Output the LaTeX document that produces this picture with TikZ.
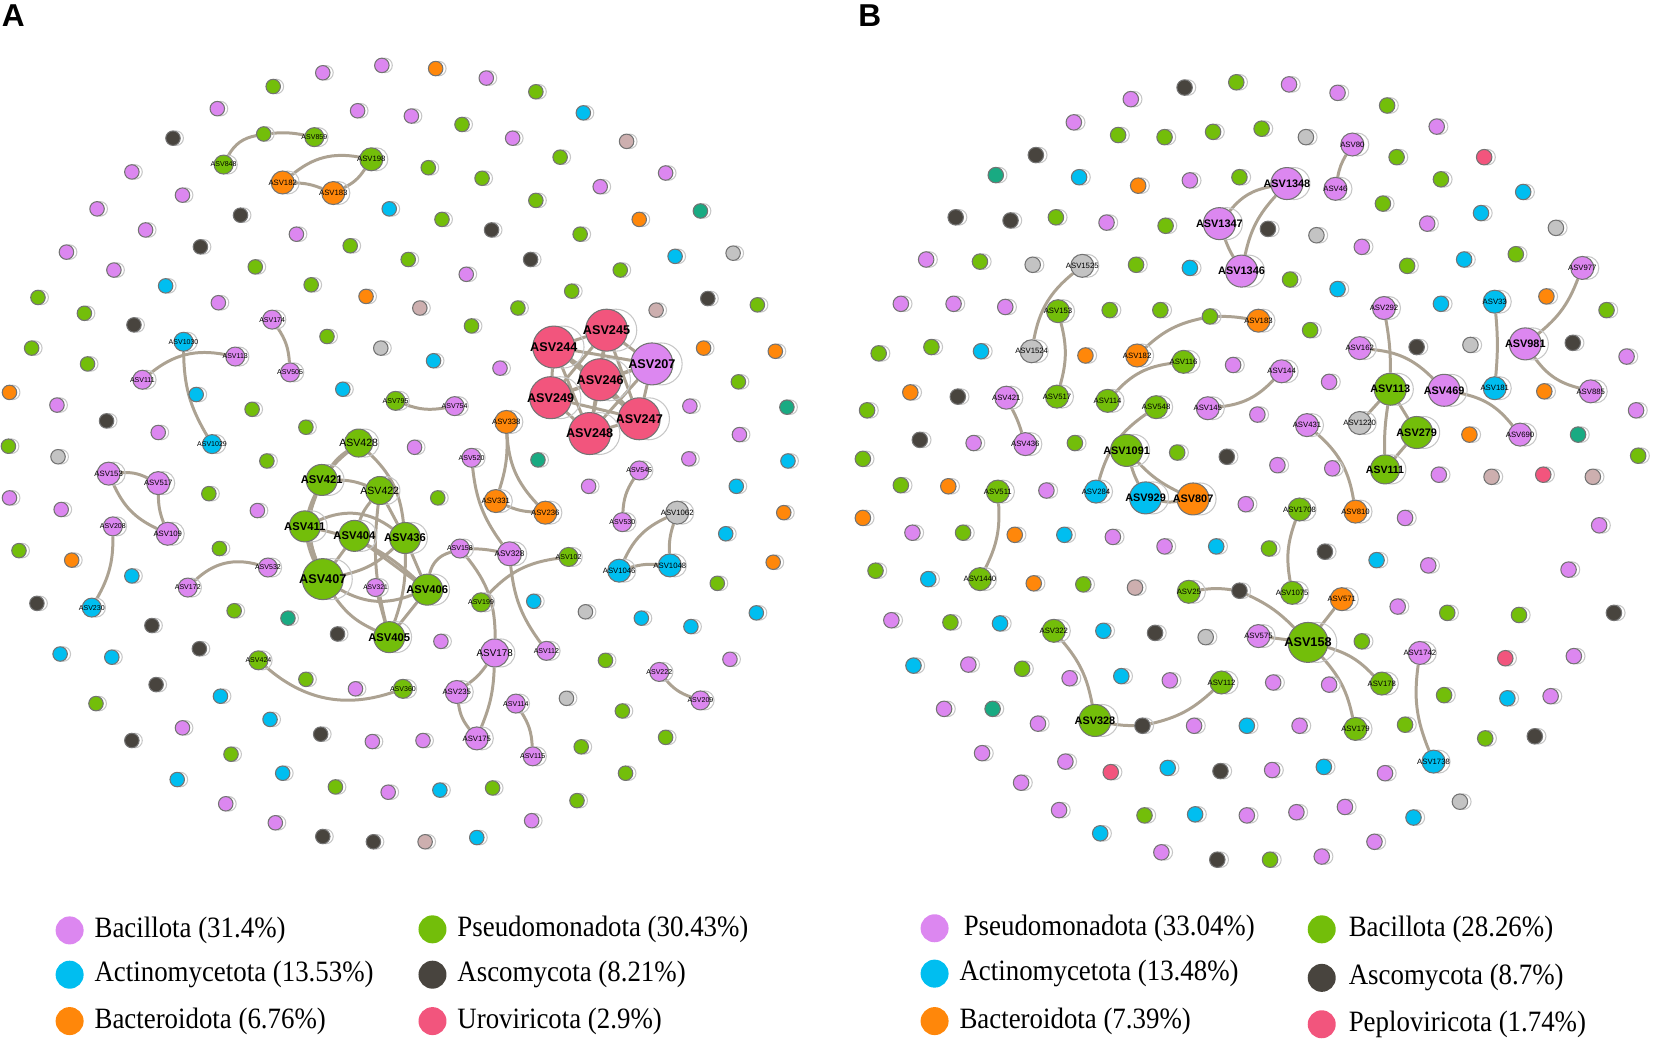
\documentclass[tikz,border=0pt]{standalone}
\usepackage{fontspec}
\setmainfont{Liberation Sans}
\newfontfamily\legfont[FakeStretch=0.91]{Liberation Serif}

\definecolor{pk}{RGB}{220,135,240}
\definecolor{gn}{RGB}{115,190,10}
\definecolor{bl}{RGB}{0,190,240}
\definecolor{og}{RGB}{255,135,10}
\definecolor{dk}{RGB}{72,68,62}
\definecolor{rd}{RGB}{242,85,125}
\definecolor{lg}{RGB}{195,195,195}
\definecolor{tl}{RGB}{25,170,130}
\definecolor{mv}{RGB}{205,175,175}
\definecolor{edgecol}{RGB}{172,162,146}

\pgfdeclarelayer{background}
\pgfsetlayers{background,main}

\tikzset{
  asv/.style={circle, draw=black!55, line width=0.3pt, inner sep=0pt},
  ghost/.style={circle, draw=black!22, line width=0.3pt, inner sep=0pt},
  edge/.style={draw=edgecol, line width=0.85pt},
  legdot/.style={circle, inner sep=0pt, minimum size=2.8mm},
  legtext/.style={anchor=west, inner sep=0pt, font=\legfont\fontsize{8.4}{10}\selectfont},
  panel/.style={anchor=north west, inner sep=0pt, font=\bfseries\fontsize{9}{9}\selectfont}
}

% name, x, y, colour, size (mm), font (pt), label
\newcommand{\otu}[7]{%
  \node[ghost, minimum size=#5mm] (g#1) at ([xshift=#5*0.22mm]#2,#3) {};
  \node[asv, fill=#4, minimum size=#5mm] (#1) at (#2,#3) {};
  \node[inner sep=0pt, font=\fontsize{#6}{#6}\selectfont] (t#1) at (#1) {#7};
}

\begin{document}
\begin{tikzpicture}[x=0.10548mm, y=-0.10548mm]
\useasboundingbox (0,0) rectangle (1568,986);

\node[panel] (lblA) at (1,4) {A};
\node[panel] (lblB) at (813,4) {B};

% panel A: unconnected ASVs
\foreach \x/\y/\c [count=\i] in {362/62/pk, 413/65/og, 306/69/pk, 461/74/pk, 259/82/gn, 508/87/gn,
  206/103/pk, 339/105/pk, 390/110/pk, 553/107/bl, 438/118/gn, 486/131/pk, 594/134/mv, 164/131/dk,
  531/149/gn, 406/159/gn, 457/169/gn, 631/164/pk, 569/177/pk, 125/163/pk, 173/185/pk, 369/198/bl,
  92/198/pk, 228/204/dk, 508/190/gn, 664/200/tl, 606/208/og, 419/208/gn, 466/218/dk, 550/222/gn,
  138/218/pk, 281/222/pk, 332/233/gn, 190/234/dk, 63/239/pk, 387/246/gn, 503/246/dk, 640/243/bl,
  695/240/lg, 108/256/pk, 242/253/gn, 442/260/pk, 588/256/gn, 157/271/bl, 295/270/gn, 542/276/gn,
  347/281/og, 36/282/gn, 671/283/dk, 718/289/gn, 207/287/pk, 398/292/mv, 491/292/gn, 622/294/mv,
  80/297/gn, 127/308/dk, 447/309/gn, 30/330/gn, 83/345/gn, 310/319/gn, 361/330/lg, 325/369/bl,
  9/372/og, 54/384/pk, 186/374/bl, 239/388/gn, 101/399/dk, 150/410/pk, 290/405/gn, 8/423/gn,
  55/433/lg, 253/437/gn, 393/424/pk, 9/472/pk, 58/483/pk, 198/468/gn, 244/484/pk, 18/522/gn,
  68/531/og, 208/520/gn, 125/546/bl, 411/342/bl, 474/349/pk, 667/330/og, 735/333/og, 700/362/gn,
  654/385/pk, 746/386/tl, 701/412/pk, 510/436/tl, 653/435/pk, 747/437/bl, 558/461/pk, 698/461/bl,
  415/472/gn, 743/486/og, 688/506/bl, 733/533/og, 680/553/gn, 35/572/dk, 222/579/gn, 273/586/tl,
  144/593/dk, 320/601/dk, 57/620/bl, 106/623/bl, 189/615/dk, 290/644/gn, 337/653/pk, 148/649/dk,
  209/660/bl, 91/667/gn, 173/690/pk, 256/682/bl, 125/702/dk, 304/696/dk, 353/703/pk, 401/702/pk,
  219/715/gn, 168/739/bl, 268/733/bl, 318/746/gn, 368/751/pk, 214/762/pk, 261/780/pk, 306/793/dk,
  354/798/dk, 506/570/bl, 555/580/lg, 608/586/bl, 655/594/bl, 717/581/bl, 418/608/pk, 574/626/gn,
  692/625/pk, 537/662/lg, 590/674/gn, 631/699/gn, 551/708/gn, 593/733/gn, 417/749/bl, 467/747/gn,
  547/759/gn, 504/778/pk, 403/798/mv, 452/794/bl}
  {\otu{a\i}{\x}{\y}{\c}{1.45}{2}{}}

% panel A: connected ASVs
\otu{A848}{212}{156}{gn}{1.9}{2}{ASV848}
\otu{A16}{250}{127}{gn}{1.45}{2}{}
\otu{A859}{298}{130}{gn}{1.9}{2}{ASV859}
\otu{A198}{352}{151}{gn}{2.3}{2.2}{ASV198}
\otu{A182}{268}{173}{og}{2.3}{2.2}{ASV182}
\otu{A183}{316}{183}{og}{2.3}{2.2}{ASV183}
\otu{A174}{258}{303}{pk}{1.9}{2}{ASV174}
\otu{A1030}{174}{324}{bl}{1.9}{2}{ASV1030}
\otu{A113}{223}{338}{pk}{1.9}{2}{ASV113}
\otu{A111}{135}{360}{pk}{1.9}{2}{ASV111}
\otu{A505}{275}{353}{pk}{1.9}{2}{ASV505}
\otu{A1029}{201}{421}{bl}{1.9}{2}{ASV1029}
\otu{A795}{375}{380}{gn}{1.9}{2}{ASV795}
\otu{A754}{431}{385}{pk}{1.9}{2}{ASV754}
\otu{A153}{103}{449}{pk}{2.3}{2.2}{ASV153}
\otu{A517}{150}{458}{pk}{2.3}{2.2}{ASV517}
\otu{A109}{159}{506}{pk}{2.3}{2.2}{ASV109}
\otu{A208}{107}{499}{pk}{1.9}{2}{ASV208}
\otu{A230}{87}{576}{bl}{1.9}{2}{ASV230}
\otu{A172}{178}{557}{pk}{1.9}{2}{ASV172}
\otu{A532}{254}{538}{pk}{1.9}{2}{ASV532}
\otu{A428}{340}{420}{gn}{2.8}{3}{ASV428}
\otu{A421}{305}{455}{gn}{3.1}{3.2}{\textbf{ASV421}}
\otu{A422}{360}{465}{gn}{2.8}{3}{ASV422}
\otu{A411}{289}{499}{gn}{3.1}{3.2}{\textbf{ASV411}}
\otu{A404}{336}{508}{gn}{3.1}{3.2}{\textbf{ASV404}}
\otu{A436}{384}{510}{gn}{3.1}{3.2}{\textbf{ASV436}}
\otu{A407}{306}{549}{gn}{4.1}{3.6}{\textbf{ASV407}}
\otu{A321}{356}{557}{pk}{1.8}{1.9}{ASV321}
\otu{A406}{405}{559}{gn}{3.1}{3.2}{\textbf{ASV406}}
\otu{A405}{369}{604}{gn}{3.1}{3.2}{\textbf{ASV405}}
\otu{A424}{245}{626}{gn}{1.9}{2}{ASV424}
\otu{A360}{382}{653}{gn}{1.9}{2}{ASV360}
\otu{A244}{525}{329}{rd}{4.2}{3.6}{\textbf{ASV244}}
\otu{A245}{575}{313}{rd}{4.2}{3.6}{\textbf{ASV245}}
\otu{A207}{618}{345}{pk}{4.2}{3.6}{\textbf{ASV207}}
\otu{A246}{569}{360}{rd}{4.2}{3.6}{\textbf{ASV246}}
\otu{A249}{522}{377}{rd}{4.2}{3.6}{\textbf{ASV249}}
\otu{A247}{606}{397}{rd}{4.2}{3.6}{\textbf{ASV247}}
\otu{A248}{559}{411}{rd}{4.2}{3.6}{\textbf{ASV248}}
\otu{A338}{480}{400}{og}{2.3}{2.2}{ASV338}
\otu{A520}{447}{434}{pk}{1.9}{2}{ASV520}
\otu{A545}{606}{446}{pk}{1.9}{2}{ASV545}
\otu{A331}{470}{475}{og}{2.3}{2.2}{ASV331}
\otu{A236}{517}{486}{og}{2.3}{2.2}{ASV236}
\otu{A1062}{642}{486}{lg}{2.3}{2.2}{ASV1062}
\otu{A530}{590}{495}{pk}{1.9}{2}{ASV530}
\otu{A158}{436}{520}{pk}{1.9}{2}{ASV158}
\otu{A328}{483}{525}{pk}{2.4}{2.3}{ASV328}
\otu{A102}{539}{528}{gn}{1.9}{2}{ASV102}
\otu{A1046}{587}{541}{bl}{2.3}{2.2}{ASV1046}
\otu{A1048}{635}{536}{bl}{2.3}{2.2}{ASV1048}
\otu{A199}{456}{571}{gn}{1.9}{2}{ASV199}
\otu{A178}{469}{619}{pk}{2.8}{2.8}{ASV178}
\otu{A112}{518}{617}{pk}{1.9}{2}{ASV112}
\otu{A222}{625}{637}{pk}{1.9}{2}{ASV222}
\otu{A235}{433}{656}{pk}{2.3}{2.2}{ASV235}
\otu{A114}{489}{667}{pk}{1.9}{2}{ASV114}
\otu{A209}{664}{664}{pk}{1.9}{2}{ASV209}
\otu{A175}{452}{700}{pk}{2.3}{2.2}{ASV175}
\otu{A115}{505}{717}{pk}{1.9}{2}{ASV115}

% panel B: unconnected ASVs
\foreach \x/\y/\c [count=\i] in {878/246/pk, 929/248/gn, 979/251/lg, 1077/251/gn, 1128/254/bl,
  1223/265/gn, 854/288/pk, 904/288/pk, 953/291/pk, 1052/294/gn, 1100/294/gn, 833/335/gn, 883/329/gn,
  930/333/bl, 1029/337/og, 1169/346/pk, 863/372/og, 908/376/dk, 1192/393/pk, 822/389/gn, 872/417/dk,
  923/420/pk, 1019/420/gn, 1116/429/gn, 1163/433/dk, 1211/441/pk, 818/435/gn, 854/460/gn, 899/461/og,
  992/465/pk, 1181/478/pk, 818/491/og, 865/505/pk, 913/505/gn, 962/507/og, 1009/507/bl, 1055/509/pk,
  1332/491/pk, 1104/518/pk, 1153/518/bl, 1203/520/gn, 1256/523/dk, 1305/531/bl, 1354/536/pk,
  980/553/og, 1027/554/gn, 1076/557/mv, 1325/575/pk, 1372/581/gn, 901/590/gn, 948/591/bl, 1046/598/bl,
  1095/600/dk, 1143/604/lg, 1291/608/gn, 918/630/pk, 969/634/gn, 1014/643/pk, 1063/641/bl, 1109/645/pk,
  1207/647/pk, 1260/649/pk, 1369/659/gn, 941/672/tl, 984/686/pk, 1132/688/pk, 1182/688/bl, 1232/688/pk,
  1332/687/gn, 931/714/pk, 1010/722/pk, 1053/732/rd, 1107/728/bl, 1157/731/dk, 1206/730/pk,
  1255/727/bl, 1313/733/pk, 982/147/dk, 1023/168/bl, 1079/176/og, 1128/171/pk, 1175/168/gn,
  1324/149/gn, 1407/149/rd, 1366/170/gn, 1444/182/bl, 958/209/dk, 1001/206/gn, 1049/211/pk,
  1105/214/gn, 1202/217/dk, 1248/223/lg, 1311/193/gn, 1404/202/bl, 1353/212/pk, 1475/216/lg,
  1291/234/pk, 1334/252/gn, 1437/241/gn, 1388/246/bl, 1268/274/bl, 1242/313/gn, 1366/288/bl,
  1466/281/og, 1523/294/gn, 1343/329/dk, 1394/327/lg, 1491/325/dk, 1542/338/pk, 1260/362/pk,
  1464/371/og, 1551/389/pk, 1393/412/og, 1496/412/tl, 1553/432/gn, 1263/444/pk, 1364/450/pk,
  1414/452/mv, 1463/450/rd, 1510/452/mv, 1172/78/gn, 1222/80/pk, 1123/83/dk, 1268/88/pk, 1072/94/pk,
  1315/100/gn, 1018/116/pk, 1104/130/gn, 1150/125/gn, 1196/122/gn, 1238/130/lg, 1362/120/pk,
  1060/128/gn, 944/166/tl, 906/206/dk, 830/541/gn, 880/549/bl, 845/588/pk, 866/631/bl, 895/672/pk,
  968/742/pk, 1004/768/pk, 1043/790/bl, 1085/773/gn, 1133/772/bl, 1182/773/pk, 1229/770/pk,
  1275/765/pk, 1340/775/bl, 1384/760/lg, 1101/808/pk, 1154/815/dk, 1204/815/gn, 1253/812/pk,
  1303/798/pk, 1516/498/pk, 1487/540/pk, 1530/581/dk, 1440/583/gn, 1427/624/rd, 1492/622/pk,
  1429/662/bl, 1470/660/pk, 1455/698/dk, 1408/700/gn}
  {\otu{b\i}{\x}{\y}{\c}{1.55}{2}{}}

% panel B: connected ASVs
\otu{B1348}{1220}{174}{pk}{3.2}{3.1}{\textbf{ASV1348}}
\otu{B1347}{1156}{212}{pk}{3.2}{3.1}{\textbf{ASV1347}}
\otu{B1346}{1177}{257}{pk}{3.2}{3.1}{\textbf{ASV1346}}
\otu{B80}{1282}{137}{pk}{2.3}{2.2}{ASV80}
\otu{B46}{1266}{179}{pk}{2.3}{2.2}{ASV46}
\otu{B1525}{1026}{252}{lg}{2.3}{2.2}{ASV1525}
\otu{B1524}{978}{333}{lg}{2.3}{2.2}{ASV1524}
\otu{B153}{1003}{295}{gn}{2.3}{2.2}{ASV153}
\otu{B517}{1002}{376}{gn}{2.3}{2.2}{ASV517}
\otu{B16}{1147}{300}{gn}{1.55}{2}{}
\otu{B183}{1193}{304}{og}{2.3}{2.2}{ASV183}
\otu{B182}{1078}{337}{og}{2.3}{2.2}{ASV182}
\otu{B116}{1122}{343}{gn}{2.3}{2.2}{ASV116}
\otu{B144}{1215}{352}{pk}{2.3}{2.2}{ASV144}
\otu{B114}{1050}{380}{gn}{2.3}{2.2}{ASV114}
\otu{B421}{954}{377}{pk}{2.3}{2.2}{ASV421}
\otu{B436}{972}{421}{pk}{2.3}{2.2}{ASV436}
\otu{B548}{1096}{386}{gn}{2.3}{2.2}{ASV548}
\otu{B145}{1145}{387}{pk}{2.3}{2.2}{ASV145}
\otu{B1091}{1068}{427}{gn}{3.2}{3.1}{\textbf{ASV1091}}
\otu{B284}{1039}{466}{bl}{2.3}{2.2}{ASV284}
\otu{B929}{1086}{472}{bl}{3.2}{3.1}{\textbf{ASV929}}
\otu{B807}{1131}{473}{og}{3.2}{3.1}{\textbf{ASV807}}
\otu{B511}{946}{466}{gn}{2.3}{2.2}{ASV511}
\otu{B1440}{929}{549}{gn}{2.3}{2.2}{ASV1440}
\otu{B1708}{1232}{483}{gn}{2.3}{2.2}{ASV1708}
\otu{B1075}{1225}{562}{gn}{2.3}{2.2}{ASV1075}
\otu{B810}{1285}{485}{og}{2.3}{2.2}{ASV810}
\otu{B431}{1239}{403}{pk}{2.3}{2.2}{ASV431}
\otu{B292}{1312}{292}{pk}{2.3}{2.2}{ASV292}
\otu{B162}{1289}{330}{pk}{2.3}{2.2}{ASV162}
\otu{B113}{1318}{369}{gn}{3.2}{3.1}{\textbf{ASV113}}
\otu{B469}{1369}{370}{pk}{3.2}{3.1}{\textbf{ASV469}}
\otu{B1220}{1289}{401}{lg}{2.3}{2.2}{ASV1220}
\otu{B279}{1343}{410}{gn}{3.2}{3.1}{\textbf{ASV279}}
\otu{B111}{1313}{445}{gn}{2.9}{3}{\textbf{ASV111}}
\otu{B690}{1441}{412}{pk}{2.3}{2.2}{ASV690}
\otu{B33}{1417}{286}{bl}{2.3}{2.2}{ASV33}
\otu{B181}{1417}{368}{bl}{2.3}{2.2}{ASV181}
\otu{B981}{1446}{326}{pk}{3.2}{3.1}{\textbf{ASV981}}
\otu{B977}{1500}{254}{pk}{2.3}{2.2}{ASV977}
\otu{B885}{1508}{371}{pk}{2.3}{2.2}{ASV885}
\otu{B25}{1127}{561}{gn}{2.3}{2.2}{ASV25}
\otu{B25d}{1175}{560}{dk}{1.55}{2}{}
\otu{B158}{1240}{609}{gn}{4.0}{3.6}{\textbf{ASV158}}
\otu{B571}{1272}{568}{og}{2.3}{2.2}{ASV571}
\otu{B575}{1193}{603}{pk}{2.3}{2.2}{ASV575}
\otu{B178}{1310}{648}{gn}{2.3}{2.2}{ASV178}
\otu{B179}{1285}{691}{gn}{2.3}{2.2}{ASV179}
\otu{B322}{999}{598}{gn}{2.3}{2.2}{ASV322}
\otu{B328}{1038}{683}{gn}{3.2}{3.1}{\textbf{ASV328}}
\otu{B328d}{1083}{688}{dk}{1.55}{2}{}
\otu{B112}{1158}{647}{gn}{2.3}{2.2}{ASV112}
\otu{B1742}{1346}{619}{pk}{2.3}{2.2}{ASV1742}
\otu{B1738}{1359}{722}{bl}{2.3}{2.2}{ASV1738}

\begin{pgfonlayer}{background}
% panel A links
\draw[edge] (A848) to[bend left=25] (A16);
\draw[edge] (A16) to[bend left=8] (A859);
\draw[edge] (A182) to[bend left=25] (A198);
\draw[edge] (A182) to[bend left=10] (A183);
\draw[edge] (A183) to[bend right=15] (A198);
\draw[edge] (A1030) to[bend right=15] (A1029);
\draw[edge] (A111) to[bend left=25] (A113);
\draw[edge] (A174) to[bend left=15] (A505);
\draw[edge] (A795) to[bend right=15] (A754);
\draw[edge] (A153) to[bend left=15] (A517);
\draw[edge] (A153) to[bend right=20] (A109);
\draw[edge] (A517) to[bend right=10] (A109);
\draw[edge] (A208) to[bend left=15] (A230);
\draw[edge] (A172) to[bend left=30] (A532);
\draw[edge] (A424) to[bend right=30] (A360);
\draw[edge] (A338) to[bend left=10] (A331);
\draw[edge] (A338) to[bend right=20] (A236);
\draw[edge] (A331) to[bend right=10] (A236);
\draw[edge] (A545) to[bend right=15] (A530);
\draw[edge] (A1062) to[bend right=20] (A1046);
\draw[edge] (A1062) to[bend right=10] (A1048);
\draw[edge] (A1046) to[bend left=10] (A1048);
\draw[edge] (A406) to[bend left=30] (A158);
\draw[edge] (A158) to[bend left=5] (A328);
\draw[edge] (A158) to[bend left=20] (A178);
\draw[edge] (A328) to[bend left=15] (A520);
\draw[edge] (A328) to[bend right=15] (A112);
\draw[edge] (A102) to[bend right=20] (A199);
\draw[edge] (A178) to[bend left=10] (A235);
\draw[edge] (A178) to[bend left=10] (A175);
\draw[edge] (A235) to[bend right=15] (A175);
\draw[edge] (A114) to[bend left=15] (A115);
\draw[edge] (A222) to[bend right=15] (A209);
\draw[edge] (A428) to[bend right=10] (A421);
\draw[edge] (A428) to[bend left=20] (A436);
\draw[edge] (A428) to[bend right=35] (A407);
\draw[edge] (A421) to[bend left=10] (A422);
\draw[edge] (A421) to (A411);
\draw[edge] (A421) to[bend right=25] (A407);
\draw[edge] (A411) to[bend left=30] (A436);
\draw[edge] (A411) to (A407);
\draw[edge] (A411) to[bend left=15] (A406);
\draw[edge] (A422) to[bend right=10] (A404);
\draw[edge] (A422) to (A436);
\draw[edge] (A422) to[bend right=10] (A405);
\draw[edge] (A404) to (A407);
\draw[edge] (A404) to (A406);
\draw[edge] (A436) to (A406);
\draw[edge] (A436) to[bend left=15] (A407);
\draw[edge] (A436) to[bend left=10] (A405);
\draw[edge] (A407) to[bend right=25] (A406);
\draw[edge] (A407) to[bend right=15] (A405);
\draw[edge] (A406) to (A405);
\draw[edge] (A321) to (A405);
\foreach \a/\b in {244/245, 244/246, 244/249, 244/248, 244/247, 244/207, 245/246, 245/207,
  245/249, 245/247, 245/248, 246/207, 246/249, 246/247, 246/248, 249/248, 249/247, 248/247,
  207/247, 207/248, 207/249}
  \draw[edge] (A\a) -- (A\b);
% panel B links
\draw[edge] (B1348) to[bend right=20] (B1347);
\draw[edge] (B1348) to[bend right=15] (B1346);
\draw[edge] (B1347) to[bend right=5] (B1346);
\draw[edge] (B80) to[bend right=10] (B46);
\draw[edge] (B1525) to[bend right=20] (B1524);
\draw[edge] (B153) to[bend left=15] (B517);
\draw[edge] (B182) to[bend left=15] (B16);
\draw[edge] (B16) to[bend left=5] (B183);
\draw[edge] (B116) to[bend right=20] (B114);
\draw[edge] (B421) to[bend left=5] (B436);
\draw[edge] (B145) to[bend right=20] (B144);
\draw[edge] (B548) to[bend right=20] (B284);
\draw[edge] (B1091) to[bend right=5] (B929);
\draw[edge] (B1091) to[bend right=10] (B807);
\draw[edge] (B929) to[bend right=10] (B807);
\draw[edge] (B511) to[bend left=15] (B1440);
\draw[edge] (B1708) to[bend right=15] (B1075);
\draw[edge] (B431) to[bend left=20] (B810);
\draw[edge] (B292) to[bend left=5] (B113);
\draw[edge] (B162) to[bend left=20] (B469);
\draw[edge] (B113) to (B1220);
\draw[edge] (B113) to (B279);
\draw[edge] (B113) to[bend right=5] (B111);
\draw[edge] (B279) to (B111);
\draw[edge] (B469) to[bend left=20] (B690);
\draw[edge] (B33) to[bend left=5] (B181);
\draw[edge] (B981) to[bend right=15] (B977);
\draw[edge] (B981) to[bend right=20] (B885);
\draw[edge] (B25) to[bend left=8] (B25d);
\draw[edge] (B25d) to[bend left=10] (B158);
\draw[edge] (B571) to (B158);
\draw[edge] (B575) to (B158);
\draw[edge] (B158) to[bend left=15] (B178);
\draw[edge] (B158) to[bend left=15] (B179);
\draw[edge] (B322) to[bend left=15] (B328);
\draw[edge] (B328) to[bend right=5] (B328d);
\draw[edge] (B328d) to[bend right=15] (B112);
\draw[edge] (B1742) to[bend right=15] (B1738);
\end{pgfonlayer}

% legend A
\node[legdot, fill=pk] (kA1) at (66,882) {};
\node[legtext] (lA1) at (89,882) {Bacillota (31.4\%)};
\node[legdot, fill=bl] (kA2) at (66,924) {};
\node[legtext] (lA2) at (89,924) {Actinomycetota (13.53\%)};
\node[legdot, fill=og] (kA3) at (66,968) {};
\node[legtext] (lA3) at (89,968) {Bacteroidota (6.76\%)};
\node[legdot, fill=gn] (kA4) at (410,881) {};
\node[legtext] (lA4) at (433,881) {Pseudomonadota (30.43\%)};
\node[legdot, fill=dk] (kA5) at (410,924) {};
\node[legtext] (lA5) at (433,924) {Ascomycota (8.21\%)};
\node[legdot, fill=rd] (kA6) at (410,968) {};
\node[legtext] (lA6) at (433,968) {Uroviricota (2.9\%)};

% legend B
\node[legdot, fill=pk] (kB1) at (886,880) {};
\node[legtext] (lB1) at (913,880) {Pseudomonadota (33.04\%)};
\node[legdot, fill=bl] (kB2) at (886,923) {};
\node[legtext] (lB2) at (909,923) {Actinomycetota (13.48\%)};
\node[legdot, fill=og] (kB3) at (886,968) {};
\node[legtext] (lB3) at (909,968) {Bacteroidota (7.39\%)};
\node[legdot, fill=gn] (kB4) at (1253,881) {};
\node[legtext] (lB4) at (1278,881) {Bacillota (28.26\%)};
\node[legdot, fill=dk] (kB5) at (1253,927) {};
\node[legtext] (lB5) at (1278,927) {Ascomycota (8.7\%)};
\node[legdot, fill=rd] (kB6) at (1253,971) {};
\node[legtext] (lB6) at (1278,971) {Peploviricota (1.74\%)};
\end{tikzpicture}
\end{document}
